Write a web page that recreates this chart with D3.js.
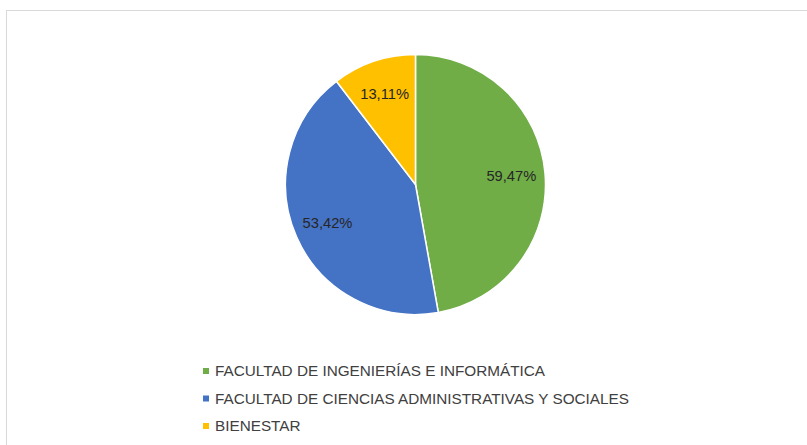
<!DOCTYPE html>
<html>
<head>
<meta charset="utf-8">
<script src="https://cdn.jsdelivr.net/npm/d3@7"></script>
<style>
  body { margin: 0; background: #fff; }
  svg { display: block; font-family: "Liberation Sans", Arial, sans-serif; }
</style>
</head>
<body>
<div id="chart"></div>
<script>
// data
const categories = [
    "FACULTAD DE INGENIERÍAS E INFORMÁTICA",
    "FACULTAD DE CIENCIAS ADMINISTRATIVAS Y SOCIALES",
    "BIENESTAR"
];
const values = [59.47, 53.42, 13.11];
const labels = ["59,47%", "53,42%", "13,11%"];
const colors = ["#70AD47", "#4472C4", "#FFC000"];

const width = 807, height = 445;
const cx = 415.5, cy = 184.5, radius = 130;

const svg = d3.select("#chart").append("svg")
    .attr("width", width)
    .attr("height", height);

// chart area border
svg.append("rect")
    .attr("x", 6.5)
    .attr("y", 10.5)
    .attr("width", width + 10)
    .attr("height", height + 10)
    .attr("fill", "#fff")
    .attr("stroke", "#d9d9d9");

const data = categories.map((c, i) => ({ name: c, value: values[i], label: labels[i], color: colors[i] }));

const pie = d3.pie().value(d => d.value).sort(null);
const arcs = pie(data);

const arc = d3.arc().innerRadius(0).outerRadius(radius);
const labelArc = d3.arc().innerRadius(radius * 0.74).outerRadius(radius * 0.74);

const g = svg.append("g").attr("transform", `translate(${cx},${cy})`);

g.selectAll("path.slice")
    .data(arcs)
    .enter().append("path")
    .attr("class", "slice")
    .attr("d", arc)
    .attr("fill", d => d.data.color)
    .attr("stroke", "#fff")
    .attr("stroke-width", 1.5);

g.selectAll("text.lbl")
    .data(arcs)
    .enter().append("text")
    .attr("class", "lbl")
    .attr("transform", d => `translate(${labelArc.centroid(d)})`)
    .attr("text-anchor", "middle")
    .attr("dy", "0.35em")
    .attr("font-size", 14.7)
    .attr("fill", "#262626")
    .text(d => d.data.label);

// legend
const legend = svg.append("g").attr("transform", "translate(203,371)");
const rowH = 27.5;

const item = legend.selectAll("g")
    .data(data)
    .enter().append("g")
    .attr("transform", (d, i) => `translate(0,${i * rowH})`);

item.append("rect")
    .attr("x", 0)
    .attr("y", -3)
    .attr("width", 6)
    .attr("height", 6)
    .attr("fill", d => d.color);

item.append("text")
    .attr("x", 12)
    .attr("dy", "0.35em")
    .attr("font-size", 15.3)
    .attr("fill", "#404040")
    .text(d => d.name);
</script>
</body>
</html>
